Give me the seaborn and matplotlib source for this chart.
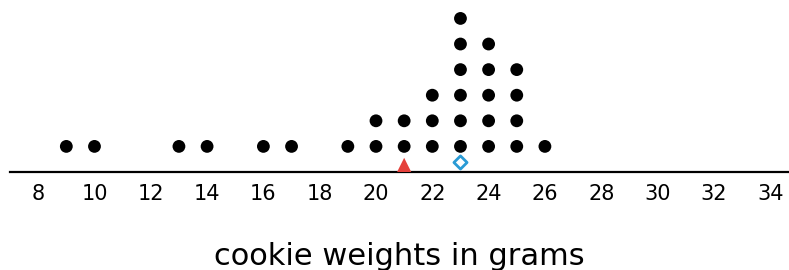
import numpy as np
import pandas as pd
import matplotlib
matplotlib.use("Agg")
import matplotlib.pyplot as plt
import seaborn as sns

# ==============================
# Datos: pesos de galletas (dot plot)
# ==============================
weights = [9, 10, 13, 14, 16, 17, 19, 20, 21, 22, 23, 24, 25, 26]
counts = [1, 1, 1, 1, 1, 1, 1, 2, 2, 3, 6, 5, 4, 1]
mean_value = 21
median_value = 23
tick_values = list(range(8, 35, 2))

rows = []
for w, c in zip(weights, counts):
    for k in range(1, c + 1):
        rows.append({"weight": w, "level": k})
df = pd.DataFrame(rows)

sns.set_style("white")
plt.rcParams["font.family"] = ["DejaVu Sans"]

fig = plt.figure(figsize=(7.89, 2.70), dpi=100)
ax = fig.add_axes([0.0127, 0.363, 0.9873, 0.637])

sns.scatterplot(data=df, x="weight", y="level", color="black", s=85,
                edgecolor="none", ax=ax, legend=False)

# media (triángulo) y mediana (rombo)
ax.scatter([mean_value], [0.27], marker="^", s=110, color="#e5413b",
           edgecolor="none", zorder=3)
ax.scatter([median_value], [0.39], marker="D", s=45, facecolor="white",
           edgecolor="#2a9bd5", linewidth=2, zorder=3)

ax.set_xlim(7.0, 34.67)
ax.set_ylim(0, 6.72)
ax.set_xticks(tick_values)
ax.set_xticklabels([str(t) for t in tick_values], fontsize=15, color="black")
ax.set_yticks([])
ax.set_ylabel("")
ax.set_xlabel("cookie weights in grams", fontsize=22, color="black",
              labelpad=27)

for side in ["top", "right", "left"]:
    ax.spines[side].set_visible(False)
ax.spines["bottom"].set_linewidth(1.6)
ax.spines["bottom"].set_color("black")
ax.tick_params(axis="x", direction="out", length=4, width=1.3,
               color="black", pad=5)

fig.savefig("out.png", dpi=100)
plt.close(fig)
